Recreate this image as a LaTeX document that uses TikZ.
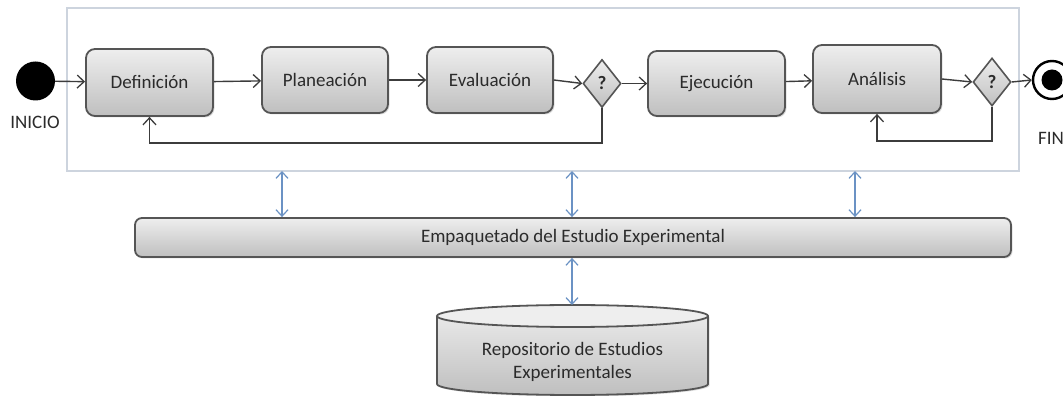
\documentclass[tikz,border=0pt]{standalone}
\usepackage{fontspec}
\setmainfont{Carlito}
\usetikzlibrary{arrows.meta,shapes.geometric,shadows}
\definecolor{boxline}{HTML}{555555}
\definecolor{conn}{HTML}{3C3C3C}
\definecolor{frame}{HTML}{CDD4DE}
\definecolor{link}{HTML}{6B92C4}
\definecolor{txt}{HTML}{2B2B2B}
\definecolor{gtop}{HTML}{EEEEEE}
\definecolor{gbot}{HTML}{BFBFBF}
\tikzset{
  base/.style={font=\fontsize{19}{23}\selectfont, text=txt},
  stepbox/.style={base, draw=boxline, line width=1.8pt, rounded corners=9pt,
    top color=gtop, bottom color=gbot, inner sep=0pt,
    drop shadow={opacity=0.25, shadow xshift=1.5pt, shadow yshift=-1.5pt}},
  decide/.style={base, diamond, draw=boxline, line width=1.6pt, top color=gtop, bottom color=gbot,
    inner sep=0pt, minimum width=38pt, minimum height=48pt, aspect=0.8, font=\fontsize{19}{23}\selectfont\bfseries},
  flow/.style={draw=conn, line width=1.4pt, -{Straight Barb[length=7pt,width=13pt,line width=1.3pt]}},
  blue/.style={draw=link, line width=1.3pt, {Straight Barb[length=6.5pt,width=12pt,line width=1.2pt]}-{Straight Barb[length=6.5pt,width=12pt,line width=1.2pt]}},
}
\begin{document}
\begin{tikzpicture}[x=1pt,y=1pt]
\clip (0,0) rectangle (1063,396);
\fill[white] (0,0) rectangle (1063,396);
% container
\draw[frame, line width=1.4pt] (67,225) rectangle (1019,388);
\coordinate (c1) at (282,225);
\coordinate (c2) at (572,225);
\coordinate (c3) at (855,225);
% start / end
\node[circle, fill=black, minimum size=39pt, inner sep=0pt] (ini) at (35.5,315) {};
\node[base] (inil) at (35,274) {INICIO};
\node[circle, draw=black, line width=2.4pt, fill=white, minimum size=38pt, inner sep=0pt] (fin) at (1052,316) {};
\node[circle, fill=black, minimum size=21pt, inner sep=0pt] (finin) at (fin.center) {};
\node[base] (finl) at (1051,258) {FIN};
% steps
\node[stepbox, minimum width=127pt, minimum height=67pt] (def) at (149.5,313.5) {Definición};
\node[stepbox, minimum width=126pt, minimum height=66pt] (pla) at (325,316) {Planeación};
\node[stepbox, minimum width=126pt, minimum height=66pt] (eva) at (490,316) {Evaluación};
\node[decide] (d1) at (602,312.5) {?};
\node[stepbox, minimum width=137pt, minimum height=65pt] (eje) at (716.5,312.5) {Ejecución};
\node[stepbox, minimum width=128pt, minimum height=68pt] (ana) at (877,317) {Análisis};
\node[decide] (d2) at (992,314) {?};
% flow
\draw[flow] (ini) -- (def);
\draw[flow] (def) -- (pla);
\draw[flow] (pla) -- (eva);
\draw[flow] (eva.east) -- (d1.west);
\draw[flow] (d1) -- (eje);
\draw[flow] (eje) -- (ana);
\draw[flow] (ana.east) -- (d2.west);
\draw[flow] (d2.east) -- (fin.west);
\draw[flow] (d1.south) |- (149.5,253) -- (def.south);
\draw[flow] (d2.south) |- (877,255) -- (ana.south);
% package bar
\node[stepbox, rounded corners=7pt, minimum width=876pt, minimum height=39pt] (pack) at (573,158.5) {Empaquetado del Estudio Experimental};
\draw[blue] (c1) -- (c1 |- pack.north);
\draw[blue] (c2) -- (c2 |- pack.north);
\draw[blue] (c3) -- (c3 |- pack.north);
% repository cylinder
\shade[top color=gtop, bottom color=gbot, drop shadow={opacity=0.25, shadow xshift=1.5pt, shadow yshift=-1.5pt}]
  (437,80) -- (437,12) arc[start angle=180, end angle=360, x radius=135.5, y radius=11] -- (708,80)
  arc[start angle=0, end angle=180, x radius=135.5, y radius=11] -- cycle;
\draw[boxline, line width=1.8pt]
  (437,80) -- (437,12) arc[start angle=180, end angle=360, x radius=135.5, y radius=11] -- (708,80);
\draw[boxline, line width=1.8pt, fill=gtop] (572.5,80) ellipse[x radius=135.5, y radius=11];
\coordinate (repotop) at (572,91);
\node[base, align=center] (repo) at (572.5,34) {Repositorio de Estudios\\Experimentales};
\draw[blue] (pack.south -| repotop) -- (repotop);
\end{tikzpicture}
\end{document}
